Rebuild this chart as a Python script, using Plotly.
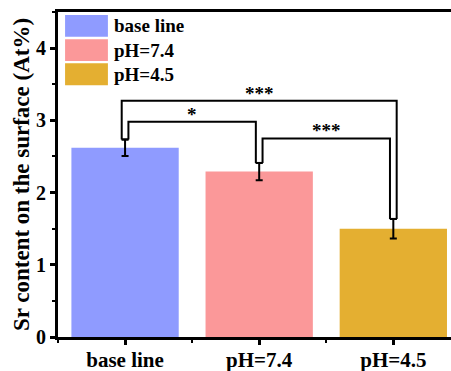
import plotly.graph_objects as go

categories = ["base line", "pH=7.4", "pH=4.5"]
values = [2.62, 2.29, 1.50]
errors = [0.115, 0.12, 0.135]
colors = ["#8F9BFF", "#FB9899", "#E4AF31"]
# significance brackets: (bar i, bar j, label, bracket height)
brackets = [(0, 1, "*", 2.98), (1, 2, "***", 2.75), (0, 2, "***", 3.27)]

FONT = "Times New Roman, Liberation Serif, serif"
xs = list(range(len(categories)))

fig = go.Figure()
for i, (c, v, e, col) in enumerate(zip(categories, values, errors, colors)):
    fig.add_trace(go.Bar(
        x=[xs[i]], y=[v], name=c, width=0.8,
        marker=dict(color=col, line=dict(width=0)),
        error_y=dict(type="data", array=[e], visible=True, color="black",
                     thickness=2, width=3.5),
        showlegend=False,
    ))

# brackets
d = 0.025
tops = [v + e for v, e in zip(values, errors)]
leg_x = {k: [] for k in xs}
for (i, j, lab, h) in brackets:
    off = -d if (j - i) > 1 else d
    xl, xr = i + off, j - off
    leg_x[i].append(xl)
    leg_x[j].append(xr)
    fig.add_trace(go.Scatter(
        x=[xl, xl, xr, xr], y=[tops[i], h, h, tops[j]], mode="lines",
        line=dict(color="black", width=2), showlegend=False, hoverinfo="skip"))
    fig.add_annotation(x=(i + j) / 2, y=h, text=f"<b>{lab}</b>", showarrow=False,
                       yanchor="bottom", yshift=-5,
                       font=dict(family=FONT, size=19, color="black"))
for k in xs:
    if len(leg_x[k]) > 1:
        fig.add_trace(go.Scatter(
            x=[min(leg_x[k]), max(leg_x[k])], y=[tops[k], tops[k]], mode="lines",
            line=dict(color="black", width=2), showlegend=False, hoverinfo="skip"))

# custom legend (large patches)
leg_top = 0.991
row_h = 0.0745
patch_h = 0.067
for n, (c, col) in enumerate(zip(categories, colors)):
    y1 = leg_top - n * row_h
    y0 = y1 - patch_h
    fig.add_shape(type="rect", xref="x domain", yref="y domain",
                  x0=0.018, x1=0.127, y0=y0, y1=y1,
                  fillcolor=col, line=dict(width=0))
    fig.add_annotation(xref="x domain", yref="y domain", x=0.138, y=(y0 + y1) / 2,
                       text=f"<b>{c}</b>", showarrow=False, xanchor="left",
                       yanchor="middle",
                       font=dict(family=FONT, size=19, color="black"))

fig.update_layout(
    width=451, height=371,
    margin=dict(l=58, r=0, t=12, b=34),
    plot_bgcolor="white", paper_bgcolor="white",
    font=dict(family=FONT, color="black"),
    bargap=0.2,
)
fig.update_xaxes(
    automargin=False,
    range=[-0.5, 2.43], tickmode="array", tickvals=xs,
    ticktext=[f"<b>{c}</b>" for c in categories],
    tickfont=dict(family=FONT, size=21, color="black"),
    ticklabelstandoff=-3,
    showline=True, linecolor="black", linewidth=3, mirror=True,
    ticks="outside", ticklen=5, tickwidth=3, tickcolor="black",
    minor=dict(ticks="outside", ticklen=3, tickwidth=2, tickcolor="black",
               tick0=0.5, dtick=1),
    showgrid=False, zeroline=False,
)
fig.update_yaxes(
    automargin=False,
    range=[0, 4.5], tickmode="linear", tick0=0, dtick=1,
    tickfont=dict(family=FONT, size=20, color="black"),
    tickprefix="<b>", ticksuffix="</b>",
    title=dict(text="<b>Sr content on the surface (At%)</b>",
               font=dict(family=FONT, size=23, color="black"), standoff=0),
    showline=True, linecolor="black", linewidth=3,
    ticks="outside", ticklen=5, tickwidth=3, tickcolor="black",
    minor=dict(ticks="outside", ticklen=3, tickwidth=2, tickcolor="black",
               dtick=0.5),
    showgrid=False, zeroline=False,
)

fig.write_html("out.html",
               config={"displayModeBar": False},
               post_script="document.body.style.margin='0';"
                           "document.body.style.overflow='hidden';")
